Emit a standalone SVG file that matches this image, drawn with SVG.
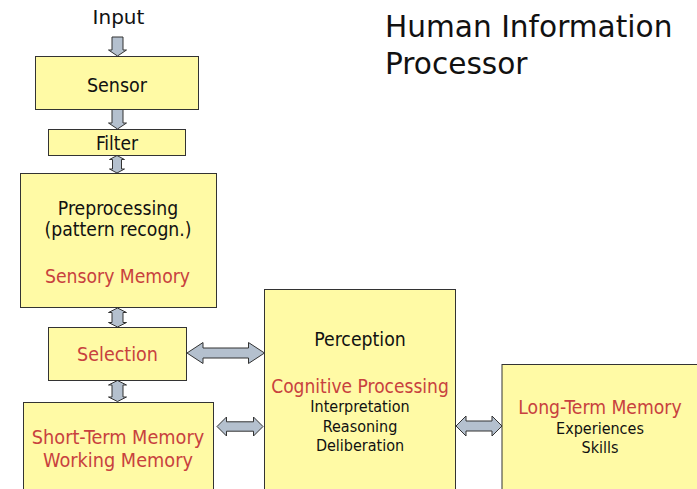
<svg xmlns="http://www.w3.org/2000/svg" width="697" height="489" viewBox="0 0 697 489">
<style>
.box{fill:#FFFAA5;stroke:#333;stroke-width:1}
.arr{fill:#B4C0CE;stroke:#333;stroke-width:1;stroke-linejoin:miter}
.t{font-family:"DejaVu Sans Condensed","DejaVu Sans",sans-serif;font-stretch:condensed;text-anchor:middle;fill:#111}
.r{fill:#C8413E}
.v{font-family:"DejaVu Sans",Verdana,sans-serif;fill:#111}
</style>
<rect width="697" height="489" fill="#fff"/>
<g id="title"><text class="v" x="385" y="37" font-size="29.6">Human Information</text><text class="v" x="385" y="74" font-size="29.6">Processor</text></g>
<g id="input"><text class="v" x="118.5" y="24" font-size="20" text-anchor="middle">Input</text></g>
<g id="connectors">
<path class="arr" d="M112,37 H123 V50 H126.5 L117.5,56 L108.5,50 H112 Z"/>
<path class="arr" d="M112,109.5 H123 V123 H126.5 L117.5,129 L108.5,123 H112 Z"/>
<path class="arr" d="M117,155.5 L124.5,159.5 H121.5 V169 H124.5 L117,173 L109.5,169 H112.5 V159.5 H109.5 Z"/>
<path class="arr" d="M117.5,308 L126.5,312.5 H123 V322.5 H126.5 L117.5,327 L108.5,322.5 H112 V312.5 H108.5 Z"/>
<path class="arr" d="M117.5,380.5 L126.5,385 H123 V397 H126.5 L117.5,401.5 L108.5,397 H112 V385 H108.5 Z"/>
<path class="arr" d="M187,353 L203,342.5 V348 H248.5 V342.5 L264.5,353 L248.5,363.5 V358 H203 V363.5 Z"/>
<path class="arr" d="M217,426.5 L226.5,417 V421.8 H253.5 V417 L263,426.5 L253.5,436 V431.2 H226.5 V436 Z"/>
<path class="arr" d="M456,426 L466,416 V421 H492 V416 L502,426 L492,436 V431 H466 V436 Z"/>
</g>
<g id="sensor"><rect class="box" x="35.5" y="56.5" width="163" height="53"/><text class="t" x="117" y="91.5" font-size="19.5">Sensor</text></g>
<g id="filter"><rect class="box" x="48.5" y="129.5" width="137" height="26"/><text class="t" x="117" y="150" font-size="19">Filter</text></g>
<g id="preprocessing"><rect class="box" x="20.5" y="173.5" width="196" height="134"/>
<text class="t" x="118" y="215" font-size="19.2">Preprocessing</text>
<text class="t" x="118" y="236" font-size="19.2">(pattern recogn.)</text>
<text class="t r" x="117.5" y="283" font-size="19.2">Sensory Memory</text></g>
<g id="selection"><rect class="box" x="48.5" y="327.5" width="138" height="53"/><text class="t r" x="117.5" y="361" font-size="19.5">Selection</text></g>
<g id="stm"><rect class="box" x="23.5" y="402.5" width="190" height="95"/>
<text class="t r" x="118" y="444" font-size="19.7">Short-Term Memory</text>
<text class="t r" x="118" y="467" font-size="19.7">Working Memory</text></g>
<g id="perception"><rect class="box" x="264.5" y="289.5" width="191" height="210"/>
<text class="t" x="360" y="346" font-size="19.3">Perception</text>
<text class="t r" x="360" y="393" font-size="19">Cognitive Processing</text>
<text class="t" x="360" y="412" font-size="16">Interpretation</text>
<text class="t" x="360" y="431.5" font-size="16">Reasoning</text>
<text class="t" x="360" y="450.5" font-size="16">Deliberation</text></g>
<g id="ltm"><rect class="box" x="502" y="364.5" width="210" height="140"/>
<text class="t r" x="600" y="414" font-size="19.2">Long-Term Memory</text>
<text class="t" x="600" y="434" font-size="16">Experiences</text>
<text class="t" x="600" y="453" font-size="16">Skills</text></g>
</svg>
